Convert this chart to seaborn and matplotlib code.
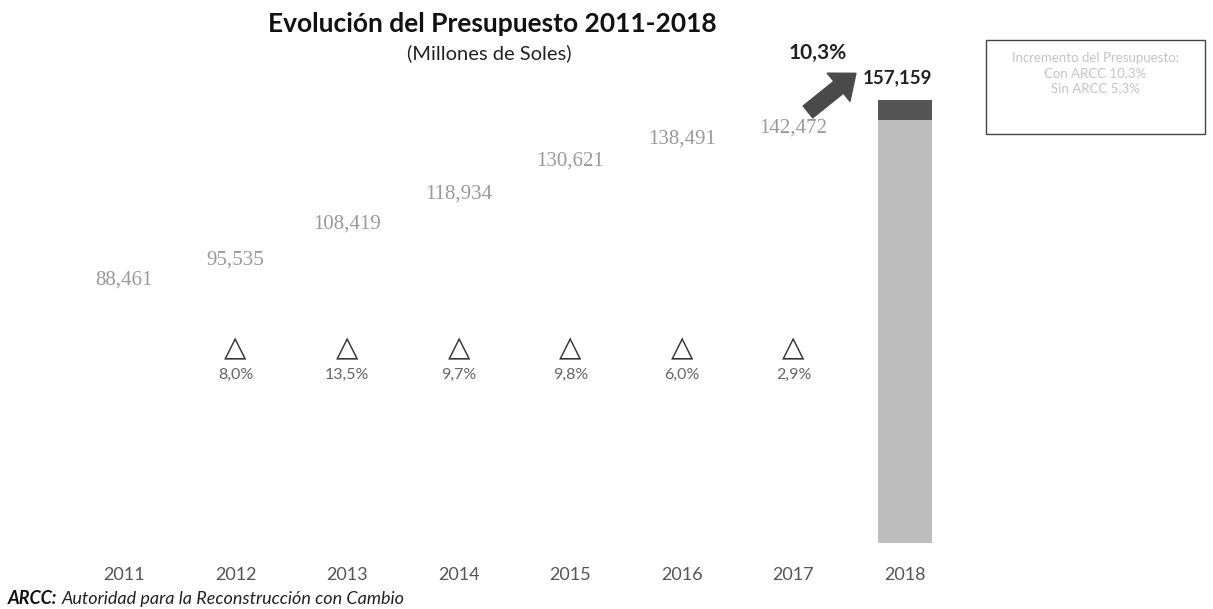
import pandas as pd
import numpy as np
import matplotlib.pyplot as plt
import seaborn as sns
from matplotlib.patches import Rectangle
import matplotlib.transforms as mtransforms

# =============================================================================
# DATOS
# =============================================================================

years = ['2011', '2012', '2013', '2014', '2015', '2016', '2017', '2018']
presupuesto = [88461, 95535, 108419, 118934, 130621, 138491, 142472, 157159]
variacion = ['', '8,0%', '13,5%', '9,7%', '9,8%', '6,0%', '2,9%', '']
sin_arcc_2018 = 150000   # base 2018 sin ARCC (aprox. +5,3%)
arcc_2018 = presupuesto[-1] - sin_arcc_2018
incremento_2018 = '10,3%'

base = presupuesto[:-1] + [sin_arcc_2018]
df = pd.DataFrame({'Año': years, 'Base': base})

# =============================================================================
# FIGURA
# =============================================================================

sns.set_theme(style='white')
plt.rcParams['font.family'] = ['Lato', 'DejaVu Sans']

fig = plt.figure(figsize=(12.13, 6.09), dpi=100)
ax = fig.add_axes([0.047, 0.1084, 0.7543, 0.7865])

colores = ['#ffffff'] * 7 + ['#bdbdbd']
sns.barplot(data=df, x='Año', y='Base', hue='Año', palette=colores,
            legend=False, width=0.48, ax=ax, saturation=1, linewidth=0)
# segmento ARCC 2018
ax.bar(len(years) - 1, arcc_2018, bottom=sin_arcc_2018, width=0.48,
       color='#555555', linewidth=0)

ax.set_xlim(-0.6, 7.6)
ax.set_ylim(0, 170000)
ax.set_yticks([])
ax.set_xlabel('')
ax.set_ylabel('')
ax.tick_params(axis='x', length=0, pad=17, labelsize=13, labelcolor='#555555')
for s in ax.spines.values():
    s.set_visible(False)

# etiquetas de valores 2011-2017
for i, v in enumerate(presupuesto[:-1]):
    ax.text(i, v + 1500, f'{v:,}', ha='center', va='bottom', fontsize=15,
            color='#999999', family='Liberation Serif')

# triángulos y variaciones
trans = mtransforms.blended_transform_factory(ax.transData, ax.transAxes)
for i, t in enumerate(variacion):
    if t:
        ax.text(i, 0.407, '\u25b3', transform=trans, ha='center', va='center',
                fontsize=21, color='#333333', family='DejaVu Sans')
        ax.text(i, 0.351, t, transform=trans, ha='center', va='center',
                fontsize=11.5, color='#666666')

# valor 2018 y flecha
ax.text(6.93, presupuesto[-1] + 8000, f'{presupuesto[-1]:,}', ha='center',
        va='center', fontsize=13.5, fontweight='bold', color='#222222',
        clip_on=False)
ax.annotate('', xy=(6.56, 166700), xytext=(6.13, 153000),
            arrowprops=dict(arrowstyle='simple,head_length=0.8,head_width=1.3,tail_width=0.55',
                            color='#4a4a4a', mutation_scale=20, shrinkA=0, shrinkB=0),
            annotation_clip=False)
fig.text(818 / 1213, 1 - 53 / 609, incremento_2018, ha='center', va='center',
         fontsize=15, fontweight='bold', color='#222222')

# títulos
fig.text(492 / 1213, 1 - 24 / 609, 'Evolución del Presupuesto 2011-2018',
         ha='center', va='center', fontsize=19, fontweight='bold', color='#111111')
fig.text(489 / 1213, 1 - 53 / 609, '(Millones de Soles)', ha='center',
         va='center', fontsize=14.5, color='#222222')

# recuadro
fig.patches.append(Rectangle((986 / 1213, 1 - 134 / 609), 219 / 1213, 94 / 609,
                             transform=fig.transFigure, fill=False,
                             edgecolor='#444444', linewidth=1))
for k, linea in enumerate(['Incremento del Presupuesto:', 'Con ARCC 10,3%',
                           'Sin ARCC 5,3%']):
    fig.text(1095 / 1213, 1 - (58 + 15 * k) / 609, linea, ha='center',
             va='center', fontsize=9.5, color='#c4c4c4')

# nota
fig.text(8 / 1213, 1 - 599 / 609, 'ARCC:', ha='left', va='center', fontsize=13,
         fontweight='bold', style='italic', color='#111111')
fig.text(62 / 1213, 1 - 599 / 609,
         'Autoridad para la Reconstrucción con Cambio', ha='left', va='center',
         fontsize=13, style='italic', color='#222222')

plt.savefig('out.png', dpi=100, facecolor='white')
plt.close()
